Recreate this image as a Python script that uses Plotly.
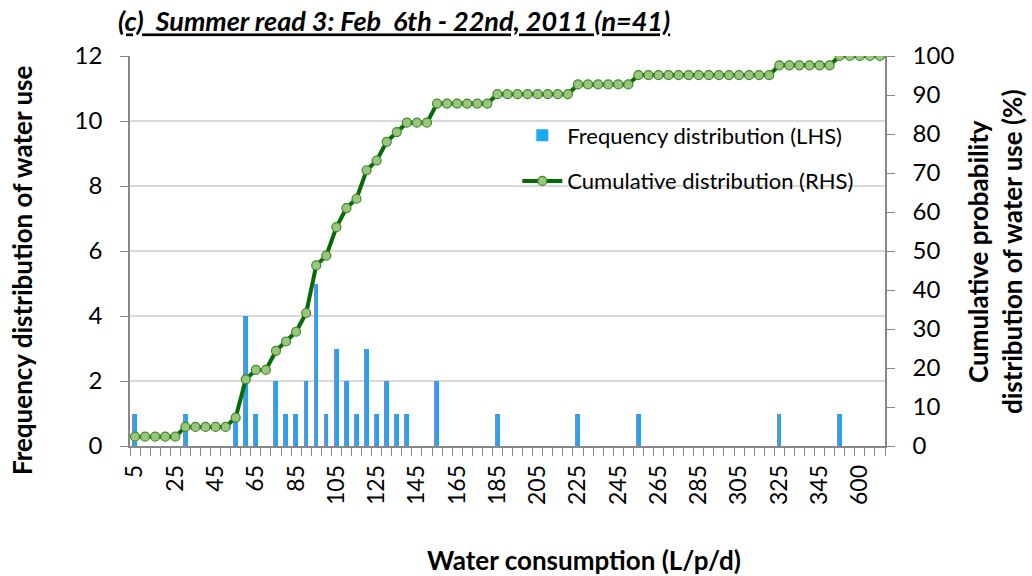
import plotly.graph_objects as go

# categories of water consumption (L/p/d)
categories = [str(v) for v in range(5, 365, 5)] + ["600", "650", "700"]

# frequency of households in each bin
frequency = [1, 0, 0, 0, 0, 1, 0, 0, 0, 0,
             1, 4, 1, 0, 2, 1, 1, 2, 5, 1,
             3, 2, 1, 3, 1, 2, 1, 1, 0, 0,
             2, 0, 0, 0, 0, 0, 1, 0, 0, 0,
             0, 0, 0, 0, 1, 0, 0, 0, 0, 0,
             1, 0, 0, 0, 0, 0, 0, 0, 0, 0,
             0, 0, 0, 0, 1, 0, 0, 0, 0, 0,
             1, 0, 0, 0, 0]

# cumulative probability (%)
cumulative = [2.4, 2.4, 2.4, 2.4, 2.4, 4.9, 4.9, 4.9, 4.9, 4.9,
              7.3, 17.1, 19.5, 19.5, 24.4, 26.8, 29.3, 34.1, 46.3, 48.8,
              56.1, 61.0, 63.4, 70.7, 73.2, 78.0, 80.5, 82.9, 82.9, 82.9,
              87.8, 87.8, 87.8, 87.8, 87.8, 87.8, 90.2, 90.2, 90.2, 90.2,
              90.2, 90.2, 90.2, 90.2, 92.7, 92.7, 92.7, 92.7, 92.7, 92.7,
              95.1, 95.1, 95.1, 95.1, 95.1, 95.1, 95.1, 95.1, 95.1, 95.1,
              95.1, 95.1, 95.1, 95.1, 97.6, 97.6, 97.6, 97.6, 97.6, 97.6,
              100, 100, 100, 100, 100]

tick_text = [c if i % 4 == 0 else "" for i, c in enumerate(categories)]

FONT = "Lato"

fig = go.Figure()
# bars (blue part + purple edge to mimic the gradient)
fig.add_trace(go.Bar(x=categories, y=frequency, name="Frequency distribution (LHS)",
                     width=0.43, marker=dict(color="#1AA8EE", line=dict(width=0)),
                     legendgroup="a"))
fig.add_trace(go.Bar(x=categories, y=frequency, showlegend=False, width=0.13,
                     offset=-0.215, marker=dict(color="#6E8DD6", line=dict(width=0)),
                     hoverinfo="skip"))
# cumulative line
fig.add_trace(go.Scatter(x=categories, y=cumulative, yaxis="y2", mode="lines+markers",
                         name="Cumulative distribution (RHS)", legendgroup="b",
                         line=dict(color="#056B05", width=4),
                         marker=dict(size=9, color="#9CC47C",
                                     line=dict(color="#3B8A2A", width=1.2))))

fig.update_layout(
    width=1032, height=576,
    margin=dict(l=130, r=147, t=56, b=130),
    paper_bgcolor="white", plot_bgcolor="white",
    barmode="overlay", bargap=0,
    font=dict(family=FONT, color="black"),
    title=dict(text="<b><i><u>(c)  Summer read 3: Feb  6th - 22nd, 2011 (n=41)</u></i></b>",
               x=118 / 1032, xanchor="left", xref="container",
               y=1 - 22 / 576, yanchor="middle", yref="container",
               font=dict(size=27, family=FONT)),
    xaxis=dict(type="category", tickmode="array", tickvals=categories, ticktext=tick_text,
               tickangle=-90, tickson="boundaries", ticks="outside", ticklen=8,
               tickcolor="#888888", showline=True, linecolor="#888888", linewidth=1.5,
               showgrid=False, tickfont=dict(size=23), range=[-0.5, 74.5],
               ticklabelstandoff=8),
    yaxis=dict(range=[0, 12], dtick=2, ticks="outside", ticklen=8, tickcolor="#888888",
               showline=True, linecolor="#888888", linewidth=1.5,
               gridcolor="#D9D9D9", gridwidth=1.5, tickfont=dict(size=24), zeroline=False,
               ticklabelstandoff=13),
    yaxis2=dict(range=[0, 100], dtick=10, overlaying="y", side="right", ticks="outside",
                ticklen=8, tickcolor="#888888", showline=True, linecolor="#888888",
                linewidth=1.5, showgrid=False, tickfont=dict(size=24), zeroline=False,
                ticklabelstandoff=13),
    legend=dict(x=0.513, y=0.85, xanchor="left", yanchor="top", bgcolor="rgba(0,0,0,0)",
                font=dict(size=22), tracegroupgap=14, itemwidth=40),
    showlegend=True,
)

# axis titles
fig.add_annotation(text="<b>Frequency distribution of water use</b>", xref="paper", yref="paper",
                   x=(22 - 130) / 755, y=(446 - 270) / 390, textangle=-90, showarrow=False,
                   font=dict(size=26), xanchor="center", yanchor="middle")
fig.add_annotation(text="<b>Cumulative probability<br>distribution of water use (%)</b>",
                   xref="paper", yref="paper", x=(995 - 130) / 755, y=(446 - 252) / 390,
                   textangle=-90, showarrow=False, font=dict(size=26),
                   xanchor="center", yanchor="middle")
fig.add_annotation(text="<b>Water consumption (L/p/d)</b>", xref="paper", yref="paper",
                   x=(584 - 130) / 755, y=(446 - 560) / 390, showarrow=False,
                   font=dict(size=26), xanchor="center", yanchor="middle")

fig.write_html("out.html", config={"displayModeBar": False},
               post_script="document.body.style.margin='0';")
